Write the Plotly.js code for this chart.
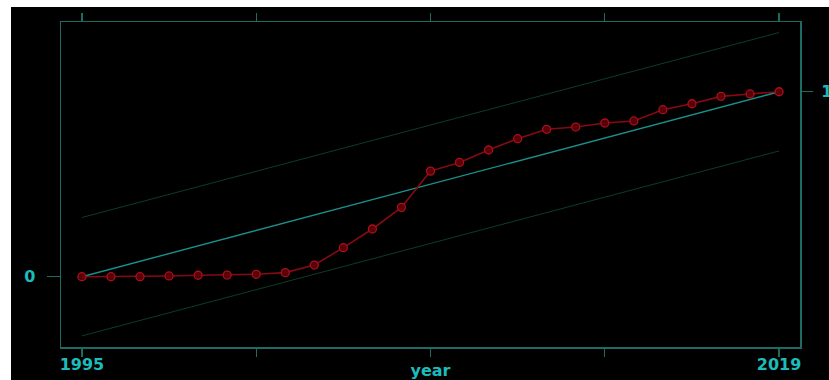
<!DOCTYPE html>
<html>
<head>
<meta charset="utf-8">
<script src="https://cdn.plot.ly/plotly-3.0.1.min.js"></script>
<style>
html, body { margin: 0; padding: 0; background: #ffffff; width: 829px; height: 380px; overflow: hidden; }
#chart { position: absolute; left: 11px; top: 7px; width: 818px; height: 373px; }
</style>
</head>
<body>
<div id="chart"></div>
<script>
// Data
var years = [1995,1996,1997,1998,1999,2000,2001,2002,2003,2004,2005,2006,2007,2008,2009,2010,2011,2012,2013,2014,2015,2016,2017,2018,2019];
var values = [0,0,0,0.004,0.008,0.009,0.013,0.022,0.063,0.157,0.258,0.375,0.571,0.618,0.685,0.746,0.797,0.809,0.831,0.842,0.903,0.935,0.975,0.988,1.0];
var lineYears = [1995, 2019];
var diagonal = [0, 1];
var bandUpper = [0.32, 1.32];
var bandLower = [-0.32, 0.68];
var xTickVals = [1995, 2001, 2007, 2013, 2019];
var xTickText = ['1995', '', '', '', '2019'];
var yLeftTicks = [0];
var yLeftText = ['0'];
var yRightTicks = [1];
var yRightText = ['1'];

var frameColor = '#1e6b66';
var labelColor = '#1cbcbc';
var labelFont = {family: 'DejaVu Sans, Arial, sans-serif', size: 16, color: labelColor, weight: 'bold'};

var traces = [
  {x: lineYears, y: bandUpper, mode: 'lines', line: {color: '#0c3d27', width: 1}, hoverinfo: 'skip', showlegend: false},
  {x: lineYears, y: bandLower, mode: 'lines', line: {color: '#0c3d27', width: 1}, hoverinfo: 'skip', showlegend: false},
  {x: lineYears, y: diagonal, mode: 'lines', line: {color: '#1a8f8c', width: 1.4}, hoverinfo: 'skip', showlegend: false},
  {x: years, y: values, mode: 'lines+markers',
   line: {color: '#860a12', width: 1.6},
   marker: {symbol: 'circle', size: 8, color: 'rgba(95,0,8,0.9)', line: {color: '#a8101e', width: 1.3}},
   showlegend: false},
  {x: lineYears, y: diagonal, yaxis: 'y2', mode: 'lines', line: {color: 'rgba(0,0,0,0)', width: 0}, hoverinfo: 'skip', showlegend: false}
];

var yr = [-0.38, 1.377];
var layout = {
  width: 818, height: 373,
  paper_bgcolor: '#000000', plot_bgcolor: '#000000',
  margin: {l: 50, r: 29, t: 15, b: 33},
  xaxis: {
    range: [1994.28, 2019.72],
    tickvals: xTickVals, ticktext: xTickText,
    ticks: 'outside', ticklen: 8, tickwidth: 1.3, tickcolor: frameColor,
    showline: true, linecolor: frameColor, linewidth: 1.5, mirror: 'ticks',
    showgrid: false, zeroline: false,
    tickfont: labelFont, ticklabelstandoff: -6,
    title: {text: 'year', font: labelFont, standoff: 5}
  },
  yaxis: {
    range: yr,
    tickvals: yLeftTicks, ticktext: yLeftText,
    ticks: 'outside', ticklen: 13, tickwidth: 1.3, tickcolor: frameColor,
    showline: true, linecolor: frameColor, linewidth: 1.5, mirror: true,
    showgrid: false, zeroline: false,
    tickfont: labelFont, ticklabelstandoff: 8
  },
  yaxis2: {
    range: yr, overlaying: 'y', side: 'right',
    tickvals: yRightTicks, ticktext: yRightText,
    ticks: 'outside', ticklen: 12, tickwidth: 1.3, tickcolor: frameColor,
    showline: false, showgrid: false, zeroline: false,
    tickfont: labelFont, ticklabelstandoff: 5
  }
};

Plotly.newPlot('chart', traces, layout, {displayModeBar: false, staticPlot: true});
</script>
</body>
</html>
